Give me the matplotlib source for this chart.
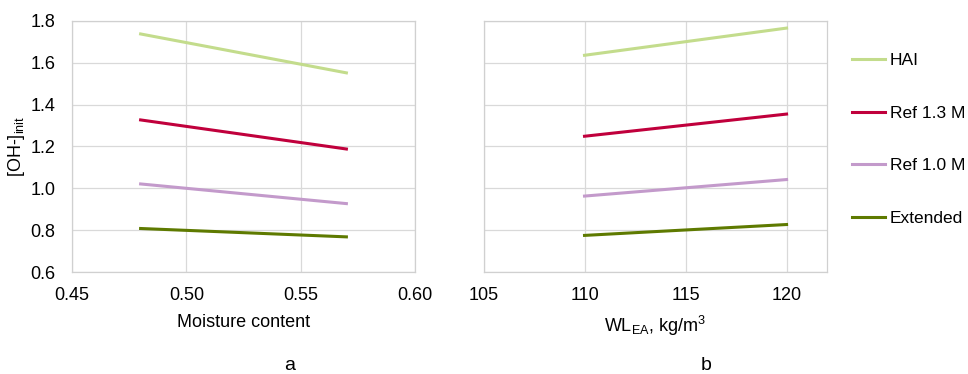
import numpy as np
import matplotlib
matplotlib.use('Agg')
import matplotlib.pyplot as plt

plt.rcParams['font.family'] = ['Liberation Sans', 'DejaVu Sans']
plt.rcParams['mathtext.fontset'] = 'custom'
plt.rcParams['mathtext.rm'] = 'Liberation Sans'
plt.rcParams['mathtext.it'] = 'Liberation Sans'

# series names and colours
labels = ['HAI', 'Ref 1.3 M', 'Ref 1.0 M', 'Extended']
colors = ['#C3DC8C', '#C0003C', '#C39ACB', '#5E7A00']

# panel a: [OH-]init vs moisture content
moisture = [0.48, 0.57]
oh_moist = [[1.738, 1.552],
            [1.327, 1.188],
            [1.021, 0.927],
            [0.808, 0.768]]

# panel b: [OH-]init vs WL_EA
wl_ea = [110, 120]
oh_wl = [[1.636, 1.766],
         [1.249, 1.355],
         [0.963, 1.042],
         [0.775, 0.827]]

fs = 13

fig = plt.figure(figsize=(9.68, 3.74), dpi=100)
ax1 = fig.add_axes([0.0744, 0.2727, 0.3543, 0.6712])
ax2 = fig.add_axes([0.4995, 0.2727, 0.3548, 0.6712])

for ax in (ax1, ax2):
    ax.grid(True, color='#D9D9D9', linewidth=0.9)
    ax.set_axisbelow(True)
    for s in ax.spines.values():
        s.set_color('#D0D0D0')
        s.set_linewidth(0.9)
    ax.tick_params(length=0, labelsize=fs)
    ax.tick_params(axis='x', pad=11)
    ax.tick_params(axis='y', pad=12)
    ax.set_ylim(0.6, 1.8)
    ax.set_yticks(np.arange(0.6, 1.81, 0.2))

for y, c, lab in zip(oh_moist, colors, labels):
    ax1.plot(moisture, y, color=c, linewidth=2.2, label=lab)
for y, c in zip(oh_wl, colors):
    ax2.plot(wl_ea, y, color=c, linewidth=2.2)

ax1.set_xlim(0.45, 0.60)
ax1.set_xticks([0.45, 0.50, 0.55, 0.60])
ax1.set_xticklabels(['0.45', '0.50', '0.55', '0.60'])
ax1.set_yticklabels(['%.1f' % v for v in np.arange(0.6, 1.81, 0.2)])
ax1.set_xlabel('Moisture content', fontsize=fs, labelpad=7)
ax1.set_ylabel(r'[OH-]$_{\mathrm{init}}$', fontsize=fs, labelpad=2)

ax2.set_xlim(105, 122)
ax2.set_xticks([105, 110, 115, 120])
ax2.tick_params(axis='y', labelleft=False)
ax2.set_xlabel(r'WL$_{\mathrm{EA}}$, kg/m$^3$', fontsize=fs, labelpad=7)

fig.legend(loc='upper left', bbox_to_anchor=(0.869, 0.886), frameon=False,
           fontsize=12.5, handlelength=1.9, handletextpad=0.3,
           labelspacing=2.15, borderaxespad=0.2)

fig.text(0.2996, 0.01, 'a', fontsize=14, ha='center')
fig.text(0.7293, 0.01, 'b', fontsize=14, ha='center')

fig.savefig('out.png', dpi=100)
